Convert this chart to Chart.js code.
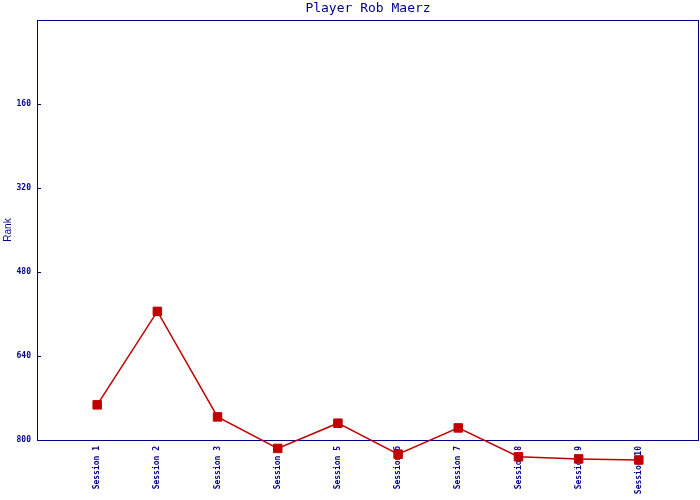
<!DOCTYPE html>
<html>
<head>
<meta charset="utf-8">
<script src="https://cdn.jsdelivr.net/npm/chart.js@4"></script>
<style>
  html, body { margin: 0; padding: 0; background: #fff; }
  #wrap { width: 700px; height: 500px; }
</style>
</head>
<body>
<div id="wrap"><canvas id="c" width="700" height="500"></canvas></div>
<script>
const categories = ['Session 1','Session 2','Session 3','Session 4','Session 5','Session 6','Session 7','Session 8','Session 9','Session 10'];
const ranks = [733, 555, 756, 816, 768, 827, 777, 832, 836, 838];
const yTickValues = [160, 320, 480, 640, 800];
const titleText = 'Player Rob Maerz';
const yTitle = 'Rank';

const NAVY = '#000088';
const RED = '#C00000';

let savedBottom = null;
const frame = {
  id: 'frame',
  beforeDatasetsDraw(chart) {
    const {ctx, chartArea: a, scales: {y}} = chart;
    ctx.save();
    ctx.strokeStyle = NAVY;
    ctx.lineWidth = 1;
    ctx.strokeRect(Math.round(a.left) + 0.5, Math.round(a.top) + 0.5, Math.round(a.right - a.left) - 1, Math.round(a.bottom - a.top));
    ctx.beginPath();
    yTickValues.forEach(v => {
      const py = Math.round(y.getPixelForValue(v)) + 0.5;
      ctx.moveTo(a.left, py);
      ctx.lineTo(a.left + 4, py);
    });
    ctx.stroke();
    ctx.restore();
    // let points below the axis be drawn (reference shows ranks beyond 800)
    savedBottom = a.bottom;
    a.bottom = chart.height;
  },
  afterDatasetsDraw(chart) {
    if (savedBottom !== null) { chart.chartArea.bottom = savedBottom; savedBottom = null; }
  }
};

new Chart(document.getElementById('c'), {
  type: 'line',
  data: {
    datasets: [{
      data: ranks.map((v, i) => ({x: i + 1, y: v})),
      borderColor: RED,
      backgroundColor: RED,
      borderWidth: 1.5,
      pointStyle: 'rect',
      pointRadius: 6,
      pointBorderWidth: 1,
      pointBorderColor: RED,
      pointBackgroundColor: RED,
      tension: 0,
      clip: false
    }]
  },
  options: {
    responsive: false,
    animation: false,
    devicePixelRatio: 1,
    layout: { autoPadding: false, padding: { left: 0, right: 1, top: 0, bottom: 0 } },
    plugins: {
      legend: { display: false },
      tooltip: { enabled: false },
      title: {
        display: true,
        text: titleText,
        fullSize: false,
        color: NAVY,
        font: { family: 'DejaVu Sans Mono', size: 13, weight: 'normal', lineHeight: 1.2 },
        padding: { top: 1, bottom: 3.4 }
      }
    },
    scales: {
      x: {
        type: 'linear',
        min: 0,
        max: 11,
        afterBuildTicks: s => { s.ticks = categories.map((c, i) => ({value: i + 1})); },
        afterFit: s => { s.height = 60; s.paddingLeft = 0; s.paddingRight = 0; },
        grid: { display: false, drawTicks: false },
        border: { display: false },
        ticks: {
          autoSkip: false,
          minRotation: 90,
          maxRotation: 90,
          padding: 6,
          color: NAVY,
          font: { family: 'DejaVu Sans Mono', size: 8, weight: 'bold' },
          callback: v => categories[v - 1] || ''
        }
      },
      y: {
        type: 'linear',
        reverse: true,
        min: 0,
        max: 800,
        afterBuildTicks: s => { s.ticks = yTickValues.map(v => ({value: v})); },
        afterFit: s => { s.width = 37; s.paddingTop = 0; s.paddingBottom = 0; },
        grid: { display: false, drawTicks: false },
        border: { display: false },
        title: {
          display: true,
          text: yTitle,
          color: NAVY,
          font: { family: 'Liberation Sans', size: 10 },
          padding: { top: 2, bottom: 0 }
        },
        ticks: {
          padding: 6,
          color: NAVY,
          font: { family: 'DejaVu Sans Mono', size: 8, weight: 'bold' }
        }
      }
    }
  },
  plugins: [frame]
});
</script>
</body>
</html>
